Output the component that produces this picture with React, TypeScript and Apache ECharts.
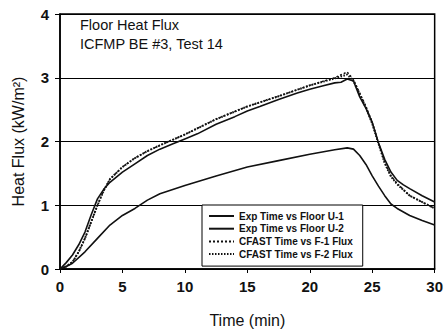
import React, { useEffect, useRef } from "react";
import * as echarts from "echarts";

const expU1Time = [0, 0.5, 1, 1.5, 2, 2.5, 3, 3.5, 4, 5, 6, 7, 8, 9, 10, 11, 12.5, 14, 15, 16, 17.5, 19, 20, 21, 22, 22.5, 23, 23.5, 24, 24.5, 25, 25.5, 26, 26.5, 27, 27.5, 28, 29, 30];
const expU1Flux = [0, 0.1, 0.22, 0.38, 0.58, 0.85, 1.1, 1.25, 1.36, 1.52, 1.65, 1.78, 1.88, 1.96, 2.04, 2.12, 2.27, 2.39, 2.48, 2.55, 2.66, 2.76, 2.82, 2.87, 2.92, 2.93, 2.98, 2.95, 2.7, 2.52, 2.3, 1.98, 1.72, 1.52, 1.39, 1.32, 1.26, 1.15, 1.05];

const expU2Time = [0, 0.5, 1, 2, 3, 4, 5, 6, 7, 8, 10, 12.5, 15, 17.5, 20, 22, 23, 23.5, 24, 24.5, 25, 25.5, 26, 26.5, 27, 28, 29, 30];
const expU2Flux = [0, 0.04, 0.09, 0.27, 0.48, 0.69, 0.84, 0.95, 1.08, 1.18, 1.31, 1.46, 1.6, 1.7, 1.8, 1.87, 1.9, 1.88, 1.78, 1.64, 1.46, 1.3, 1.15, 1.02, 0.95, 0.84, 0.76, 0.69];

const cfastTime = [0, 0.5, 1, 1.5, 2, 2.5, 3, 3.5, 4, 5, 6, 7, 8, 10, 12.5, 15, 17.5, 20, 22, 23, 23.5, 24, 24.5, 25, 25.5, 26, 26.5, 27, 28, 29, 30];
const cfastF1Flux = [0, 0.04, 0.11, 0.27, 0.48, 0.74, 1.0, 1.23, 1.41, 1.6, 1.74, 1.85, 1.94, 2.11, 2.35, 2.55, 2.71, 2.88, 3.0, 3.09, 2.97, 2.76, 2.55, 2.3, 1.98, 1.67, 1.46, 1.34, 1.15, 1.05, 0.95];
const cfastF2Flux = [0, 0.04, 0.11, 0.27, 0.48, 0.74, 1.0, 1.23, 1.41, 1.6, 1.74, 1.85, 1.94, 2.11, 2.35, 2.55, 2.71, 2.88, 2.99, 3.05, 2.95, 2.74, 2.53, 2.28, 1.97, 1.66, 1.45, 1.33, 1.15, 1.05, 0.95];

const xTicks = [0, 5, 10, 15, 20, 25, 30];
const yTicks = [0, 1, 2, 3, 4];

const titleLines = ["Floor Heat Flux", "ICFMP BE #3, Test 14"];

const seriesNames = [
  "Exp Time vs Floor U-1",
  "Exp Time vs Floor U-2",
  "CFAST Time vs F-1 Flux",
  "CFAST Time vs F-2 Flux",
];

const pairs = (t: number[], v: number[]) => t.map((x, i) => [x, v[i]]);

export default function App() {
  const ref = useRef<HTMLDivElement>(null);
  useEffect(() => {
    if (!ref.current) return;
    const chart = echarts.init(ref.current, undefined, { renderer: "svg" });
    const font = "Liberation Sans, Arial, sans-serif";
    chart.setOption({
      animation: false,
      backgroundColor: "#fff",
      textStyle: { fontFamily: font },
      grid: {
        left: 60,
        right: 10,
        top: 14,
        bottom: 63,
        show: true,
        borderColor: "#000",
        borderWidth: 1.5,
        backgroundColor: "transparent",
      },
      graphic: titleLines.map((t, i) => ({
        type: "text",
        x: 80,
        y: 25 + i * 19,
        style: {
          text: t,
          font: `14.5px ${font}`,
          fill: "#111",
          verticalAlign: "middle",
          align: "left",
        },
      })),
      legend: {
        orient: "vertical",
        left: 202,
        top: 205,
        itemWidth: 25,
        itemHeight: 10,
        itemGap: 2.7,
        padding: [6, 10, 7, 6],
        backgroundColor: "#fff",
        borderColor: "#000",
        borderWidth: 1,
        borderRadius: 0,
        itemStyle: { opacity: 0 },
        textStyle: { fontSize: 10, lineHeight: 10, fontWeight: "bold", color: "#111", fontFamily: font },
        data: seriesNames,
      },
      xAxis: {
        type: "value",
        min: 0,
        max: 30,
        interval: 5,
        name: "Time (min)",
        nameLocation: "middle",
        nameGap: 43,
        nameTextStyle: { fontSize: 16, color: "#111", fontFamily: font },
        axisLine: { lineStyle: { color: "#000", width: 1.5 } },
        axisTick: { show: true, inside: false, length: 4, lineStyle: { color: "#000" } },
        axisLabel: {
          fontSize: 15,
          fontWeight: "bold",
          color: "#111",
          margin: 10,
          formatter: (v: number) => (xTicks.includes(v) ? String(v) : ""),
        },
        splitLine: { show: false },
      },
      yAxis: {
        type: "value",
        min: 0,
        max: 4,
        interval: 1,
        name: "Heat Flux (kW/m²)",
        nameLocation: "middle",
        nameGap: 34,
        nameTextStyle: { fontSize: 16, color: "#111", fontFamily: font },
        axisLine: { lineStyle: { color: "#000", width: 1.5 } },
        axisTick: { show: true, inside: false, length: 5, lineStyle: { color: "#000" } },
        axisLabel: {
          fontSize: 15,
          fontWeight: "bold",
          color: "#111",
          margin: 11,
          formatter: (v: number) => (yTicks.includes(v) ? String(v) : ""),
        },
        splitLine: { show: true, lineStyle: { color: "#000", width: 1.2 } },
      },
      series: [
        {
          name: seriesNames[0],
          type: "line",
          data: pairs(expU1Time, expU1Flux),
          symbol: "none",
          lineStyle: { color: "#111", width: 1.6, type: "solid" },
          itemStyle: { color: "#111" },
        },
        {
          name: seriesNames[1],
          type: "line",
          data: pairs(expU2Time, expU2Flux),
          symbol: "none",
          lineStyle: { color: "#111", width: 1.6, type: "solid" },
          itemStyle: { color: "#111" },
        },
        {
          name: seriesNames[2],
          type: "line",
          data: pairs(cfastTime, cfastF1Flux),
          symbol: "none",
          lineStyle: { color: "#111", width: 1.5, type: [2, 2] },
          itemStyle: { color: "#111" },
        },
        {
          name: seriesNames[3],
          type: "line",
          data: pairs(cfastTime, cfastF2Flux),
          symbol: "none",
          lineStyle: { color: "#111", width: 2, type: [1.5, 1.5] },
          itemStyle: { color: "#111" },
        },
      ],
    });
    return () => chart.dispose();
  }, []);
  return (
    <div
      ref={ref}
      style={{ position: "absolute", left: 0, top: 0, width: 446, height: 333 }}
    />
  );
}
